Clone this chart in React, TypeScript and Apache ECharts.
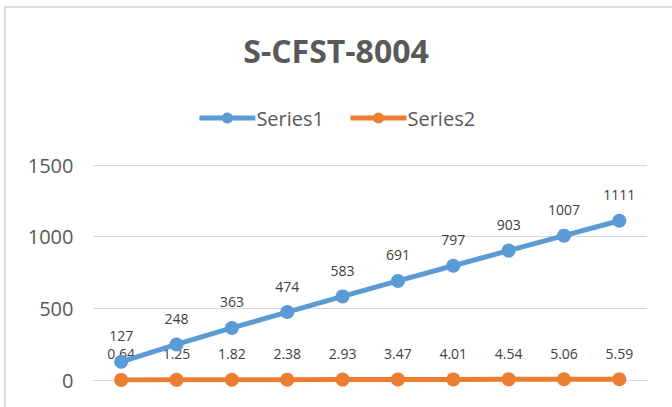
import React, { useEffect, useRef } from "react";
import * as echarts from "echarts";

const categories = ["1", "2", "3", "4", "5", "6", "7", "8", "9", "10"];
const series1Values = [127, 248, 363, 474, 583, 691, 797, 903, 1007, 1111];
const series2Values = [0.64, 1.25, 1.82, 2.38, 2.93, 3.47, 4.01, 4.54, 5.06, 5.59];
const seriesNames = ["Series1", "Series2"];
const titleText = "S-CFST-8004";

export default function App() {
  const ref = useRef<HTMLDivElement>(null);
  useEffect(() => {
    if (!ref.current) return;
    const chart = echarts.init(ref.current, undefined, { renderer: "svg" });
    const font = "'Open Sans', sans-serif";
    chart.setOption({
      animation: false,
      backgroundColor: "#ffffff",
      title: {
        text: titleText,
        left: "center",
        top: 29,
        textStyle: { fontFamily: font, fontSize: 32, fontWeight: "bold", color: "#595959" },
      },
      legend: {
        top: 103,
        left: "center",
        itemWidth: 56,
        itemHeight: 14,
        itemGap: 24,
        lineStyle: { width: 5 },
        textStyle: { fontFamily: font, fontSize: 20, color: "#595959", padding: [0, 0, 0, -4] },
        data: seriesNames,
      },
      graphic: [
        {
          type: "rect",
          shape: { x: 5, y: 7, width: 700, height: 500 },
          style: { fill: "none", stroke: "#d9d9d9", lineWidth: 2 },
          silent: true,
        },
      ],
      grid: { left: 93.5, right: 25, top: 165, bottom: 27 },
      xAxis: {
        type: "category",
        data: categories,
        boundaryGap: true,
        axisLine: { show: true, lineStyle: { color: "#d9d9d9", width: 1 } },
        axisTick: { show: false },
        axisLabel: { show: false },
      },
      yAxis: {
        type: "value",
        min: 0,
        max: 1500,
        interval: 500,
        axisLine: { show: false },
        axisTick: { show: false },
        axisLabel: {
          fontFamily: font,
          fontSize: 20,
          color: "#595959",
          margin: 20,
          formatter: (v: number) => String(v),
        },
        splitLine: { lineStyle: { color: "#d9d9d9", width: 1 } },
      },
      series: [
        {
          name: seriesNames[1],
          type: "line",
          data: series2Values,
          symbol: "circle",
          symbolSize: 14,
          itemStyle: { color: "#ED7D31" },
          lineStyle: { color: "#ED7D31", width: 5 },
          label: { show: true, position: "top", distance: 12, fontFamily: font, fontSize: 14, color: "#404040" },
          z: 2,
        },
        {
          name: seriesNames[0],
          type: "line",
          data: series1Values,
          symbol: "circle",
          symbolSize: 14,
          itemStyle: { color: "#5B9BD5" },
          lineStyle: { color: "#5B9BD5", width: 5 },
          label: { show: true, position: "top", distance: 12, fontFamily: font, fontSize: 14, color: "#404040" },
          z: 3,
        },
      ],
    });
    return () => chart.dispose();
  }, []);
  return (
    <div
      ref={ref}
      style={{ position: "absolute", left: 0, top: 0, width: 672, height: 407 }}
    />
  );
}
